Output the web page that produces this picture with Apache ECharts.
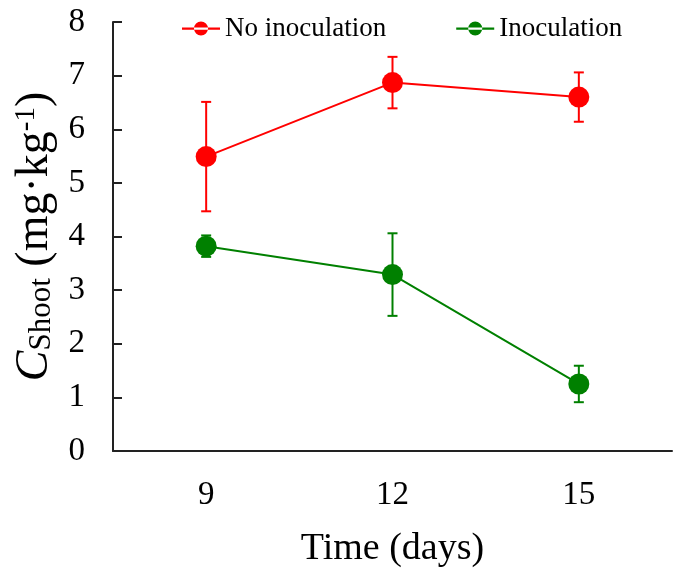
<!DOCTYPE html>
<html>
<head>
<meta charset="utf-8">
<script src="https://cdn.jsdelivr.net/npm/echarts@6/dist/echarts.min.js"></script>
<style>
html,body{margin:0;padding:0;background:#fff;}
#c{width:685px;height:576px;}
</style>
</head>
<body>
<div id="c"></div>
<script>
const categories = ['9', '12', '15'];
const noInocMean = [5.49, 6.87, 6.60];
const noInocErr = [1.02, 0.48, 0.46];
const inocMean = [3.82, 3.29, 1.25];
const inocErr = [0.20, 0.77, 0.34];
const yTicks = [0, 1, 2, 3, 4, 5, 6, 7, 8];

const FONT = 'Liberation Serif';
const RED = '#ff0000';
const GREEN = '#008000';
const LEGEND_ICON = 'path://M0,6 L38,6 L38,8.2 L0,8.2 Z M12,7 A7,7 0 1,0 26,7 A7,7 0 1,0 12,7 Z';

function errData(mean, err) {
  return mean.map((m, i) => [i, m, err[i]]);
}

function errRender(color) {
  return function (params, api) {
    const x = api.value(0), m = api.value(1), e = api.value(2);
    const top = api.coord([x, m + e]);
    const bot = api.coord([x, m - e]);
    const hw = 5;
    const style = { stroke: color, lineWidth: 2 };
    return {
      type: 'group',
      children: [
        { type: 'line', shape: { x1: top[0], y1: top[1], x2: bot[0], y2: bot[1] }, style },
        { type: 'line', shape: { x1: top[0] - hw, y1: top[1], x2: top[0] + hw, y2: top[1] }, style },
        { type: 'line', shape: { x1: bot[0] - hw, y1: bot[1], x2: bot[0] + hw, y2: bot[1] }, style }
      ]
    };
  };
}

const chart = echarts.init(document.getElementById('c'), null, { renderer: 'canvas' });
chart.setOption({
  animation: false,
  backgroundColor: '#fff',
  textStyle: { fontFamily: FONT },
  grid: { left: 113, right: 13, top: 22, bottom: 125, containLabel: false },
  legend: {
    top: 10,
    left: 177,
    itemWidth: 38,
    itemHeight: 15,
    itemGap: 70,
    textStyle: { fontFamily: FONT, fontSize: 27, color: '#000' },
    data: [
      { name: 'No inoculation', icon: LEGEND_ICON },
      { name: 'Inoculation', icon: LEGEND_ICON }
    ]
  },
  xAxis: {
    type: 'category',
    data: categories,
    boundaryGap: true,
    axisLine: { lineStyle: { color: '#222', width: 2 } },
    axisTick: { inside: true, length: 10, lineStyle: { color: '#222', width: 2 } },
    axisLabel: { fontFamily: FONT, fontSize: 33, color: '#000', margin: 28 },
    name: 'Time (days)',
    nameLocation: 'middle',
    nameGap: 79,
    nameTextStyle: { fontFamily: FONT, fontSize: 38, color: '#000' },
    splitLine: { show: false }
  },
  yAxis: {
    type: 'value',
    min: 0,
    max: 8,
    interval: 1,
    axisLine: { show: true, lineStyle: { color: '#222', width: 2 } },
    axisTick: { show: true, inside: true, length: 9, lineStyle: { color: '#222', width: 2 } },
    axisLabel: {
      fontFamily: FONT, fontSize: 33, color: '#000', margin: 28,
      formatter: v => yTicks.includes(v) ? String(v) : ''
    },
    splitLine: { show: false },
    name: '{c|C}{s|Shoot}{n| (mg·kg}{p|-1}{n|)}',
    nameLocation: 'middle',
    nameGap: 54,
    nameTextStyle: {
      color: '#000',
      rich: {
        c: { fontFamily: FONT, fontSize: 46, fontStyle: 'italic', color: '#000', lineHeight: 46 },
        s: { fontFamily: FONT, fontSize: 31, color: '#000', verticalAlign: 'bottom', lineHeight: 28 },
        n: { fontFamily: FONT, fontSize: 46, color: '#000', lineHeight: 46 },
        p: { fontFamily: FONT, fontSize: 29, color: '#000', verticalAlign: 'top', lineHeight: 24 }
      }
    }
  },
  series: [
    {
      name: 'No inoculation',
      type: 'line',
      data: noInocMean,
      symbol: 'circle',
      symbolSize: 21,
      itemStyle: { color: RED },
      lineStyle: { color: RED, width: 2 },
      z: 5
    },
    {
      name: 'Inoculation',
      type: 'line',
      data: inocMean,
      symbol: 'circle',
      symbolSize: 21,
      itemStyle: { color: GREEN },
      lineStyle: { color: GREEN, width: 2 },
      z: 5
    },
    {
      type: 'custom',
      name: 'errNo',
      data: errData(noInocMean, noInocErr),
      renderItem: errRender(RED),
      z: 3,
      silent: true
    },
    {
      type: 'custom',
      name: 'errIn',
      data: errData(inocMean, inocErr),
      renderItem: errRender(GREEN),
      z: 3,
      silent: true
    }
  ]
});
</script>
</body>
</html>
